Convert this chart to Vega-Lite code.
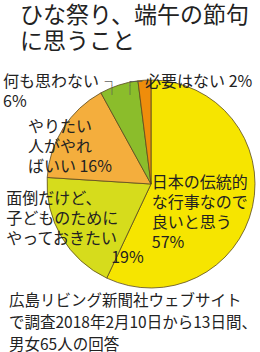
{
  "$schema": "https://vega.github.io/schema/vega-lite/v6.json",
  "padding": {"left": 3, "top": 4, "right": 0, "bottom": 0},
  "background": "white",
  "title": {"text": ["ひな祭り、端午の節句", "に思うこと"], "anchor": "start", "frame": "bounds", "fontSize": 23, "font": "Noto Sans CJK JP", "fontWeight": "normal", "lineHeight": 26, "color": "#222222", "dx": 17, "offset": 20},
  "config": {"view": {"stroke": null}, "concat": {"spacing": 0}, "text": {"font": "Noto Sans CJK JP", "fontSize": 16, "lineHeight": 20, "color": "#222222"}},
  "data": {"values": [
    {"answer": "日本の伝統的な行事なので良いと思う", "label": "日本の伝統的\nな行事なので\n良いと思う\n57%", "pct": 57, "pct_label": "57%"},
    {"answer": "面倒だけど、子どものためにやっておきたい", "label": "面倒だけど、\n子どものために\nやっておきたい", "pct": 19, "pct_label": "19%"},
    {"answer": "やりたい人がやればいい", "label": "やりたい\n人がやれ\nばいい 16%", "pct": 16, "pct_label": "16%"},
    {"answer": "何も思わない", "label": "何も思わない\n6%", "pct": 6, "pct_label": "6%"},
    {"answer": "必要はない", "label": "必要はない 2%", "pct": 2, "pct_label": "2%"}
  ]},
  "vconcat": [{
    "width": 208,
    "height": 208,
    "title": {"text": ["広島リビング新聞社ウェブサイト", "で調査2018年2月10日から13日間、", "男女65人の回答"], "orient": "bottom", "anchor": "start", "frame": "bounds", "fontSize": 15.5, "lineHeight": 22, "fontWeight": "normal", "font": "Noto Sans CJK JP", "color": "#222222", "dx": 6, "offset": 4},
    "transform": [
      {"stack": "pct", "groupby": [], "sort": [{"field": "pct", "order": "descending"}], "as": ["p0", "p1"]},
      {"calculate": "(datum.p0 + datum.p1) / 2", "as": "pmid"}
    ],
    "layer": [
      {"mark": {"type": "arc", "outerRadius": 104, "stroke": "#5a4a1e", "strokeWidth": 0.8},
       "encoding": {
         "theta": {"field": "p0", "type": "quantitative", "scale": {"domain": [0, 100]}},
         "theta2": {"field": "p1"},
         "color": {"field": "answer", "type": "nominal", "legend": null, "scale": {"domain": ["日本の伝統的な行事なので良いと思う", "面倒だけど、子どものためにやっておきたい", "やりたい人がやればいい", "何も思わない", "必要はない"], "range": ["#f6e500", "#d6dc1c", "#f4ae3d", "#8bbd2b", "#ef8d0b"]}}}},
      {"transform": [{"filter": "datum.pct == 57"}],
       "mark": {"type": "text", "radius": 10, "dx": -9, "dy": -2.7, "align": "left", "baseline": "middle", "lineBreak": "\n"},
       "encoding": {"theta": {"field": "pmid", "type": "quantitative"}, "text": {"field": "label"}}},
      {"transform": [{"filter": "datum.pct == 19"}],
       "mark": {"type": "text", "radius": 60, "dx": -93, "dy": -15.5, "align": "left", "baseline": "middle", "lineBreak": "\n"},
       "encoding": {"theta": {"field": "pmid", "type": "quantitative"}, "text": {"field": "label"}}},
      {"transform": [{"filter": "datum.pct == 19"}],
       "mark": {"type": "text", "radius": 80, "dx": 29, "dy": 33.3, "align": "left", "baseline": "middle"},
       "encoding": {"theta": {"field": "pmid", "type": "quantitative"}, "text": {"field": "pct_label"}}},
      {"transform": [{"filter": "datum.pct == 16"}],
       "mark": {"type": "text", "radius": 70, "dx": -64, "dy": -19.5, "align": "left", "baseline": "middle", "lineBreak": "\n"},
       "encoding": {"theta": {"field": "pmid", "type": "quantitative"}, "text": {"field": "label"}}},
      {"transform": [{"filter": "datum.pct == 6"}],
       "mark": {"type": "text", "radius": 110, "dx": -114, "dy": 2.6, "align": "left", "baseline": "middle", "lineBreak": "\n"},
       "encoding": {"theta": {"field": "pmid", "type": "quantitative"}, "text": {"field": "label"}}},
      {"transform": [{"filter": "datum.pct == 2"}],
       "mark": {"type": "text", "radius": 110, "dx": 1, "dy": 7.8, "align": "left", "baseline": "middle", "lineBreak": "\n"},
       "encoding": {"theta": {"field": "pmid", "type": "quantitative"}, "text": {"field": "label"}}},
      {"transform": [{"filter": "datum.pct == 6"}],
       "mark": {"type": "text", "radius": 104, "dx": -4.5, "dy": -1.3, "align": "right", "baseline": "alphabetic", "lineBreak": "\n", "font": "DejaVu Sans Mono", "fontSize": 8, "lineHeight": 9.3, "color": "#555555"},
       "encoding": {"theta": {"field": "pmid", "type": "quantitative"}, "text": {"value": "─┐\n│"}}},
      {"transform": [{"filter": "datum.pct == 2"}],
       "mark": {"type": "text", "radius": 104, "dx": -16.9, "dy": 3.6, "align": "left", "baseline": "alphabetic", "lineBreak": "\n", "font": "DejaVu Sans Mono", "fontSize": 8, "lineHeight": 9.3, "color": "#555555"},
       "encoding": {"theta": {"field": "pmid", "type": "quantitative"}, "text": {"value": "┌──\n│"}}}
    ]
  }]
}
